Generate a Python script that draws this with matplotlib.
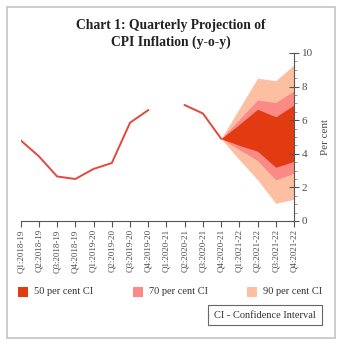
import numpy as np
import matplotlib
matplotlib.use('Agg')
import matplotlib.pyplot as plt
from matplotlib.patches import Rectangle
from matplotlib.ticker import MultipleLocator

plt.rcParams['font.family'] = ['Liberation Serif', 'DejaVu Serif']

# quarters on the x axis
quarters = ['Q1:2018-19', 'Q2:2018-19', 'Q3:2018-19', 'Q4:2018-19',
            'Q1:2019-20', 'Q2:2019-20', 'Q3:2019-20', 'Q4:2019-20',
            'Q1:2020-21', 'Q2:2020-21', 'Q3:2020-21', 'Q4:2020-21',
            'Q1:2021-22', 'Q2:2021-22', 'Q3:2021-22', 'Q4:2021-22']

# actual CPI inflation (Q1:2020-21 missing)
cpi = [4.8, 3.85, 2.65, 2.5, 3.1, 3.45, 5.85, 6.6, np.nan, 6.9, 6.4, 4.9]

# fan chart bands, Q4:2020-21 .. Q4:2021-22
fan_q = quarters[11:]
upper90 = [4.9, 6.7, 8.5, 8.35, 9.3]
upper70 = [4.9, 6.05, 7.2, 7.05, 7.75]
upper50 = [4.9, 5.75, 6.65, 6.2, 6.9]
lower50 = [4.9, 4.5, 4.15, 3.2, 3.55]
lower70 = [4.9, 4.25, 3.6, 2.45, 2.85]
lower90 = [4.9, 3.65, 2.45, 1.05, 1.3]

c50 = '#e23b12'
c70 = '#f98a86'
c90 = '#fcbfa2'
line_c = '#e4483a'
grey = '#4d4d4d'

fig = plt.figure(figsize=(3.42, 3.49), dpi=100)
fig.patch.set_facecolor('white')

# outer frame
fig.patches.append(Rectangle((7 / 342, 1 - 338 / 349), 328 / 342, 331 / 349,
                             transform=fig.transFigure, fill=False,
                             edgecolor='#c4c4c4', linewidth=1.2))

ax = fig.add_axes([20.7 / 342, 1 - 221 / 349, (294 - 20.7) / 342, (221 - 53) / 349])

xi = np.arange(len(quarters))
fx = xi[11:]
ax.fill_between(fx, lower90, upper90, color=c90, linewidth=0)
ax.fill_between(fx, lower70, upper70, color=c70, linewidth=0)
ax.fill_between(fx, lower50, upper50, color=c50, linewidth=0)
ax.plot(xi[:len(cpi)], cpi, color=line_c, linewidth=1.4)

ax.set_xlim(0, len(quarters) - 1)
ax.set_ylim(0, 10)
ax.set_xticks(xi)
ax.set_xticklabels(quarters, rotation=90, fontsize=6.5, color=grey)

ax.yaxis.tick_right()
ax.yaxis.set_label_position('right')
ax.set_yticks([0, 2, 4, 6, 8, 10])
ax.yaxis.set_minor_locator(MultipleLocator(0.5))
ax.tick_params(axis='y', which='major', direction='inout', length=7, width=0.8,
               colors='#555555', labelsize=8, labelcolor=grey, pad=2)
ax.tick_params(axis='y', which='minor', direction='out', length=2.5, width=0.5,
               colors='#777777')
ax.tick_params(axis='x', which='major', direction='out', length=4, width=0.8,
               colors='#555555', labelcolor=grey, pad=2)
ax.set_ylabel('Per cent', fontsize=8, color=grey, labelpad=6)

for s in ['top', 'left']:
    ax.spines[s].set_visible(False)
for s in ['bottom', 'right']:
    ax.spines[s].set_color('#555555')
    ax.spines[s].set_linewidth(0.8)

fig.text(171 / 342, 1 - 34 / 349, 'Chart 1: Quarterly Projection of\nCPI Inflation (y-o-y)',
         ha='center', va='center', fontsize=9.8, fontweight='bold',
         linespacing=1.35, color='#222222')

# legend
leg_items = [('50 per cent CI', c50, 18), ('70 per cent CI', c70, 133),
             ('90 per cent CI', c90, 247)]
ly = 1 - 292 / 349
for lab, col, x0 in leg_items:
    fig.patches.append(Rectangle((x0 / 342, ly - 5 / 349), 10 / 342, 10 / 349,
                                 transform=fig.transFigure, facecolor=col,
                                 edgecolor='none'))
    fig.text((x0 + 16) / 342, ly, lab, ha='left', va='center', fontsize=7.5,
             color='#333333')

fig.text(265 / 342, 1 - 315 / 349, 'CI - Confidence Interval', ha='center',
         va='center', fontsize=7.5, color='#333333',
         bbox=dict(boxstyle='square,pad=0.55', facecolor='white',
                   edgecolor='#666666', linewidth=0.8))

fig.savefig('out.png', dpi=100, facecolor='white')
